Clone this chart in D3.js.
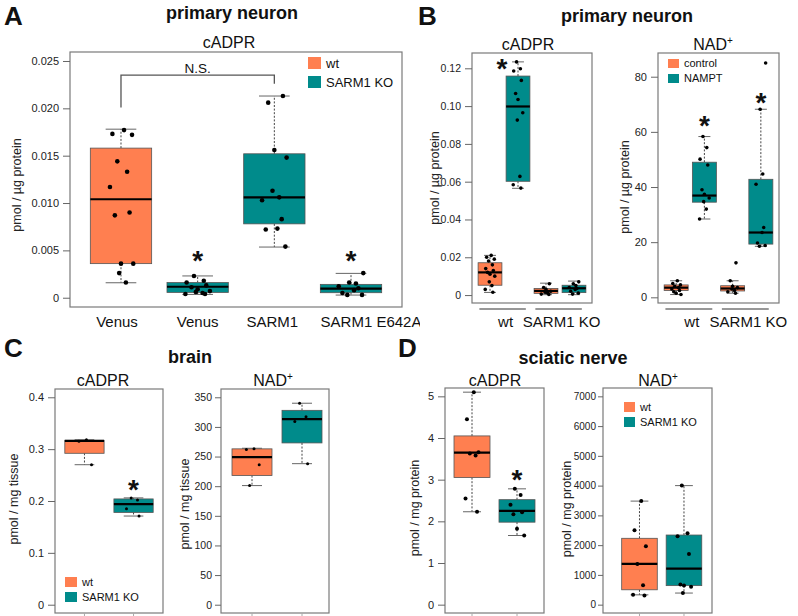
<!DOCTYPE html>
<html>
<head>
<meta charset="utf-8">
<script src="https://cdn.jsdelivr.net/npm/d3@7"></script>
<style>
  body { margin: 0; background: #fff; }
  svg { display: block; }
</style>
</head>
<body>
<script>
// ---- data ----
// stats = [lower whisker, Q1, median, Q3, upper whisker]

// A: primary neuron, cADPR
var aCats = ["Venus", "Venus", "SARM1", "SARM1 E642A"];
var aFill = ["wt", "ko", "ko", "ko"];
var aStats = [
  [0.00158, 0.0036, 0.0104, 0.0158, 0.0178],
  [0.00035, 0.00056, 0.00116, 0.0016, 0.0023],
  [0.00535, 0.0078, 0.0106, 0.0152, 0.0213],
  [0.00028, 0.00053, 0.00095, 0.00141, 0.00257]
];
var aPoints = [
  [0.0177, 0.0173, 0.0172, 0.0144, 0.0133, 0.0117, 0.0090, 0.0087, 0.0036, 0.0036, 0.0026, 0.0016],
  [0.0023, 0.0018, 0.0016, 0.0013, 0.0011, 0.0009, 0.0007, 0.0006, 0.0005, 0.0004, 0.0004],
  [0.0213, 0.0206, 0.0156, 0.0148, 0.0113, 0.0106, 0.0103, 0.0083, 0.0073, 0.0072, 0.0054],
  [0.0026, 0.0016, 0.0015, 0.0012, 0.0010, 0.0008, 0.0005, 0.0003, 0.0003]
];
var aTicks = [0, 0.005, 0.010, 0.015, 0.020, 0.025];
var aTickLabels = ["0", "0.005", "0.010", "0.015", "0.020", "0.025"];

// B: primary neuron, control / NAMPT
var bGroups = ["wt", "SARM1 KO"];
var bFill = ["wt", "ko", "wt", "ko"];
var bCadprStats = [
  [0.0014, 0.0052, 0.0120, 0.0171, 0.0210],
  [0.0565, 0.0602, 0.0998, 0.1159, 0.1234],
  [0.0002, 0.0009, 0.0022, 0.0035, 0.0063],
  [0.0002, 0.0013, 0.0036, 0.0052, 0.0074]
];
var bCadprPoints = [
  [0.0210, 0.0200, 0.0190, 0.0180, 0.0160, 0.0140, 0.0130, 0.0120, 0.0110, 0.0100, 0.0070, 0.0050, 0.0030, 0.0015],
  [0.1234, 0.1198, 0.1186, 0.1136, 0.1067, 0.1035, 0.0965, 0.0926, 0.0628, 0.0584, 0.0566],
  [0.0060, 0.0040, 0.0030, 0.0020, 0.0015, 0.0010, 0.0005, 0.0003],
  [0.0070, 0.0060, 0.0050, 0.0040, 0.0035, 0.0030, 0.0020, 0.0010, 0.0005]
];
var bCadprTicks = [0, 0.02, 0.04, 0.06, 0.08, 0.10, 0.12];
var bCadprTickLabels = ["0", "0.02", "0.04", "0.06", "0.08", "0.10", "0.12"];

var bNadStats = [
  [1.0, 2.5, 3.5, 4.5, 6.0],
  [28.4, 34.5, 36.9, 49.0, 58.3],
  [1.5, 2.3, 3.2, 4.2, 6.0],
  [18.5, 19.3, 23.5, 42.8, 68.2]
];
var bNadPoints = [
  [6.0, 5.0, 4.5, 4.0, 3.5, 3.0, 2.5, 2.0, 1.5, 1.0],
  [58.3, 54.3, 50.1, 48.0, 39.0, 37.4, 36.0, 34.7, 32.0, 28.4],
  [12.5, 6.0, 4.0, 3.5, 3.0, 2.5, 2.0, 1.5],
  [85.0, 68.2, 44.7, 41.0, 25.3, 23.5, 19.7, 18.8, 18.5]
];
var bNadTicks = [0, 20, 40, 60, 80];

// C: brain
var cFill = ["wt", "ko"];
var cCadprStats = [
  [0.270, 0.292, 0.316, 0.317, 0.318],
  [0.171, 0.178, 0.194, 0.204, 0.206]
];
var cCadprPoints = [
  [0.318, 0.315, 0.270],
  [0.206, 0.202, 0.185, 0.171]
];
var cCadprTicks = [0, 0.1, 0.2, 0.3, 0.4];
var cNadStats = [
  [201, 218, 249, 263, 264],
  [238, 273, 313, 328, 340]
];
var cNadPoints = [
  [263, 262, 236, 201],
  [340, 317, 309, 238]
];
var cNadTicks = [0, 50, 100, 150, 200, 250, 300, 350];

// D: sciatic nerve
var dCadprStats = [
  [2.23, 3.05, 3.65, 4.05, 5.10],
  [1.66, 1.98, 2.25, 2.52, 2.78]
];
var dCadprPoints = [
  [5.10, 4.45, 3.66, 3.63, 3.58, 2.55, 2.23],
  [2.78, 2.63, 2.40, 2.22, 2.17, 1.82, 1.66]
];
var dCadprTicks = [0, 1, 2, 3, 4, 5];
var dNadStats = [
  [330, 500, 1370, 2230, 3480],
  [390, 640, 1210, 2340, 4000]
];
var dNadPoints = [
  [3480, 2500, 1960, 1370, 650, 330, 310],
  [4000, 2400, 2300, 1700, 680, 640, 600, 390]
];
var dNadTicks = [0, 1000, 2000, 3000, 4000, 5000, 6000, 7000];

// ---- style ----
var colors = { wt: "#FF7F50", ko: "#008B8B" };
var font = "'Liberation Sans', Arial, Helvetica, sans-serif";
// fixed jitter pattern (fraction of box width)
var jit = [0.05, -0.14, 0.18, -0.06, 0.1, -0.18, 0.14, -0.1, 0.0, 0.2, -0.03, 0.08, -0.2, 0.12];
// small nudges of the panel A category labels (px)
var aLabelNudge = [-4, 0, -2, 20];

var svg = d3.select("body").append("svg")
  .attr("width", 798)
  .attr("height", 616)
  .style("font-family", font);

function txt(x, y, s, size, weight, anchor) {
  return svg.append("text")
    .attr("x", x).attr("y", y)
    .attr("font-size", size + "px")
    .attr("font-weight", weight || "normal")
    .attr("text-anchor", anchor || "middle")
    .attr("fill", "#111")
    .text(s);
}

function nadTitle(x, y) {
  var t = svg.append("text")
    .attr("x", x).attr("y", y)
    .attr("font-size", "16px")
    .attr("text-anchor", "middle")
    .attr("fill", "#111");
  t.append("tspan").text("NAD");
  t.append("tspan").attr("dy", -6).attr("font-size", "10px").text("+");
}

function yLabel(x, y, s) {
  svg.append("text")
    .attr("transform", "translate(" + x + "," + y + ") rotate(-90)")
    .attr("dy", "0.35em")
    .attr("text-anchor", "middle")
    .attr("font-size", "12.5px")
    .attr("fill", "#222")
    .text(s);
}

function star(x, yc) {
  // centre of the asterisk glyph at yc
  txt(x, yc + 15, "*", 28, "bold");
}

function legend(x, y, labels, sq, gap, size) {
  labels.forEach(function(l, i) {
    svg.append("rect")
      .attr("x", x).attr("y", y + i * gap)
      .attr("width", sq[0]).attr("height", sq[1])
      .attr("fill", colors[l.key]);
    txt(x + sq[0] + 5, y + i * gap + sq[1] - 1, l.text, size, "normal", "start");
  });
}

function drawPanel(p) {
  var x = d3.scaleLinear().domain(p.xDomain).range([p.left, p.right]);
  var y = d3.scaleLinear().domain(p.yDomain).range([p.bottom, p.top]);
  var g = svg.append("g");
  var bw = x(1 + p.boxW) - x(1);

  p.stats.forEach(function(s, i) {
    var cx = x(i + 1);
    // whiskers
    g.append("line")
      .attr("x1", cx).attr("x2", cx)
      .attr("y1", y(s[3])).attr("y2", y(s[4]))
      .attr("stroke", "#444").attr("stroke-dasharray", "2,1.6");
    g.append("line")
      .attr("x1", cx).attr("x2", cx)
      .attr("y1", y(s[1])).attr("y2", y(s[0]))
      .attr("stroke", "#444").attr("stroke-dasharray", "2,1.6");
    [s[0], s[4]].forEach(function(v) {
      g.append("line")
        .attr("x1", cx - bw / 4).attr("x2", cx + bw / 4)
        .attr("y1", y(v)).attr("y2", y(v))
        .attr("stroke", "#666").attr("stroke-width", 1);
    });
    g.append("rect")
      .attr("x", cx - bw / 2).attr("y", y(s[3]))
      .attr("width", bw).attr("height", y(s[1]) - y(s[3]))
      .attr("fill", colors[p.fill[i]])
      .attr("stroke", "#555").attr("stroke-width", 0.8);
    g.append("line")
      .attr("x1", cx - bw / 2).attr("x2", cx + bw / 2)
      .attr("y1", y(s[2])).attr("y2", y(s[2]))
      .attr("stroke", "#000").attr("stroke-width", 2.2);
  });

  p.points.forEach(function(pts, i) {
    var cx = x(i + 1);
    g.selectAll(null)
      .data(pts)
      .enter()
      .append("circle")
      .attr("cx", function(d, j) { return cx + jit[(j + i * 3) % jit.length] * bw; })
      .attr("cy", function(d) { return y(d); })
      .attr("r", p.r)
      .attr("fill", "#000");
  });

  // frame
  g.append("rect")
    .attr("x", p.left).attr("y", p.top)
    .attr("width", p.right - p.left).attr("height", p.bottom - p.top)
    .attr("fill", "none").attr("stroke", "#7a7a7a").attr("stroke-width", 1.2);

  var axis = d3.axisLeft(y)
    .tickValues(p.ticks)
    .tickFormat(function(d, i) { return p.tickLabels ? p.tickLabels[i] : d; })
    .tickSize(p.tickLen || 7)
    .tickPadding(p.tickPad || 4);
  var ag = g.append("g")
    .attr("transform", "translate(" + p.left + ",0)")
    .call(axis);
  ag.select(".domain").remove();
  ag.selectAll(".tick line").attr("stroke", "#666");
  ag.selectAll(".tick text")
    .attr("font-size", (p.tickFont || 11) + "px")
    .attr("font-family", font)
    .attr("fill", "#222");

  if (p.xTicks) {
    p.stats.forEach(function(s, i) {
      g.append("line")
        .attr("x1", x(i + 1)).attr("x2", x(i + 1))
        .attr("y1", p.bottom).attr("y2", p.bottom + 6)
        .attr("stroke", "#aaa");
    });
  }
  return { x: x, y: y };
}

// ---- panel A ----
txt(4, 25, "A", 26, "bold", "start");
txt(232, 19, "primary neuron", 18, "bold");
txt(229, 48, "cADPR", 16);
var pa = drawPanel({
  left: 70, right: 402, top: 52, bottom: 307,
  xDomain: [0.335, 4.665], yDomain: [-0.00098, 0.02595],
  boxW: 0.8, r: 2.3, fill: aFill, stats: aStats, points: aPoints,
  ticks: aTicks, tickLabels: aTickLabels
});
aCats.forEach(function(c, i) { txt(pa.x(i + 1) + aLabelNudge[i], 327, c, 15); });
yLabel(17, 185, "pmol / \u00b5g protein");
// N.S. bracket between Venus wt and SARM1 KO
var nsL = pa.x(1), nsR = pa.x(3);
svg.append("path")
  .attr("d", "M" + nsL + "," + pa.y(0.0201) + "V" + pa.y(0.0235) + "H" + nsR + "V" + pa.y(0.0226))
  .attr("fill", "none").attr("stroke", "#555").attr("stroke-width", 1.3);
txt((nsL + nsR) / 2, 73, "N.S.", 13.5);
star(pa.x(2), pa.y(0.0045));
star(pa.x(4), pa.y(0.0045));
legend(308, 57, [{ key: "wt", text: "wt" }, { key: "ko", text: "SARM1 KO" }], [13, 12], 19, 13);

// ---- panel B ----
// white backing so the cut-off "SARM1 E642A" label ends at the B column
svg.append("rect").attr("x", 420).attr("y", 300).attr("width", 30).attr("height", 40).attr("fill", "#fff");
txt(418, 25, "B", 26, "bold", "start");
txt(627, 22, "primary neuron", 18, "bold");
txt(528, 50, "cADPR", 16);
nadTitle(713, 50);

function groupAxis(px) {
  // underline + label for wt / SARM1 KO pairs
  [[1, 2], [3, 4]].forEach(function(pair, k) {
    var x1 = px.x(pair[0] - 0.38), x2 = px.x(pair[1] + 0.28);
    svg.append("line")
      .attr("x1", x1).attr("x2", x2)
      .attr("y1", 309).attr("y2", 309)
      .attr("stroke", "#333").attr("stroke-width", 1.2);
    txt((x1 + x2) / 2 + 3, 327, bGroups[k], 15);
  });
}

var pb1 = drawPanel({
  left: 472, right: 592, top: 53, bottom: 303,
  xDomain: [0.357, 4.643], yDomain: [-0.0042, 0.1281],
  boxW: 0.85, r: 1.8, fill: bFill, stats: bCadprStats, points: bCadprPoints,
  ticks: bCadprTicks, tickLabels: bCadprTickLabels, tickFont: 10.5
});
groupAxis(pb1);
yLabel(435, 178, "pmol / \u00b5g protein");
star(pb1.x(1.43), pb1.y(0.1228));

var pb2 = drawPanel({
  left: 658, right: 779, top: 53, bottom: 303,
  xDomain: [0.357, 4.643], yDomain: [-2.06, 88.6],
  boxW: 0.85, r: 1.8, fill: bFill, stats: bNadStats, points: bNadPoints,
  ticks: bNadTicks
});
groupAxis(pb2);
yLabel(625, 187, "pmol / \u00b5g protein");
star(pb2.x(2), pb2.y(64.3));
star(pb2.x(4), pb2.y(72.6));
legend(668, 59, [{ key: "wt", text: "control" }, { key: "ko", text: "NAMPT" }], [11, 9], 15, 11);

// ---- panel C ----
txt(4, 357, "C", 26, "bold", "start");
txt(190, 363, "brain", 18, "bold");
txt(103, 386, "cADPR", 16);
nadTitle(273, 386);
var pc1 = drawPanel({
  left: 55, right: 163, top: 389, bottom: 613,
  xDomain: [0.4, 2.6], yDomain: [-0.016, 0.416],
  boxW: 0.8, r: 1.5, fill: cFill, stats: cCadprStats, points: cCadprPoints,
  ticks: cCadprTicks, xTicks: true
});
yLabel(14, 499, "pmol / mg tissue");
star(pc1.x(2), pc1.y(0.233));
legend(65, 577, [{ key: "wt", text: "wt" }, { key: "ko", text: "SARM1 KO" }], [12, 10], 15, 11);

var pc2 = drawPanel({
  left: 221, right: 329, top: 389, bottom: 613,
  xDomain: [0.38, 2.54], yDomain: [-14, 364],
  boxW: 0.8, r: 1.5, fill: cFill, stats: cNadStats, points: cNadPoints,
  ticks: cNadTicks, xTicks: true, tickFont: 10.5, tickLen: 6, tickPad: 3
});
yLabel(185, 504, "pmol / mg tissue");

// ---- panel D ----
txt(398, 357, "D", 26, "bold", "start");
txt(573, 364, "sciatic nerve", 18, "bold");
txt(495, 386, "cADPR", 16);
nadTitle(658, 386);
var pd1 = drawPanel({
  left: 445, right: 544, top: 388, bottom: 613,
  xDomain: [0.4, 2.6], yDomain: [-0.2, 5.2],
  boxW: 0.8, r: 2.0, fill: cFill, stats: dCadprStats, points: dCadprPoints,
  ticks: dCadprTicks, xTicks: true
});
yLabel(415, 508, "pmol / mg protein");
star(pd1.x(2), pd1.y(3.14));

var pd2 = drawPanel({
  left: 603, right: 712, top: 388, bottom: 613,
  xDomain: [0.18, 2.63], yDomain: [-280, 7280],
  boxW: 0.8, r: 2.0, fill: cFill, stats: dNadStats, points: dNadPoints,
  ticks: dNadTicks, xTicks: true, tickFont: 10, tickLen: 5, tickPad: 2
});
yLabel(567, 509, "pmol / mg protein");
legend(624, 402, [{ key: "wt", text: "wt" }, { key: "ko", text: "SARM1 KO" }], [11, 10], 15, 11);
</script>
</body>
</html>
